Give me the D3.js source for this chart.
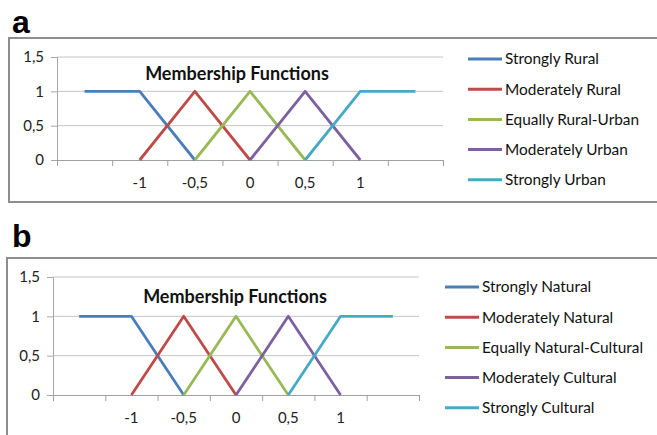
<!doctype html>
<html lang="en">
<head>
<meta charset="UTF-8" />
<title>Membership Functions</title>
<script src="https://d3js.org/d3.v7.min.js"></script>
<style>
  body { margin: 0; background: #fff; }
  text { font-family: Lato, "Open Sans", sans-serif; }
</style>
</head>
<body>
<div id="chart"></div>
<script>
// category slots along x (first and last slots carry no label)
var xLabels = ['', '-1', '-0,5', '0', '0,5', '1', ''];
var yTicks = [0, 0.5, 1, 1.5];
var yTickLabels = ['0', '0,5', '1', '1,5'];

// membership values per slot, null = no point
var strongly = [1, 1, 0, null, null, null, null];
var moderatelyLow = [null, 0, 1, 0, null, null, null];
var equally = [null, null, 0, 1, 0, null, null];
var moderatelyHigh = [null, null, null, 0, 1, 0, null];
var stronglyHigh = [null, null, null, null, 0, 1, 1];

var namesA = ['Strongly Rural', 'Moderately Rural', 'Equally Rural-Urban', 'Moderately Urban', 'Strongly Urban'];
var namesB = ['Strongly Natural', 'Moderately Natural', 'Equally Natural-Cultural', 'Moderately Cultural', 'Strongly Cultural'];

var colors = ['#4A7EBB', '#BE4B48', '#98B954', '#7D60A0', '#46AAC5'];
var seriesValues = [strongly, moderatelyLow, equally, moderatelyHigh, stronglyHigh];

var svg = d3.select('#chart')
    .append('svg')
    .attr('width', 657)
    .attr('height', 435);

function drawPanel(p) {
    var g = svg.append('g');

    g.append('text')
        .attr('x', p.labelX)
        .attr('y', p.labelY)
        .style('font-family', '"Liberation Sans", Arial, sans-serif')
        .attr('font-weight', 'bold')
        .attr('font-size', '32px')
        .text(p.letter);

    g.append('rect')
        .attr('x', p.box[0])
        .attr('y', p.box[1])
        .attr('width', p.box[2])
        .attr('height', p.box[3])
        .attr('fill', '#fff')
        .attr('stroke', '#8e8e8e')
        .attr('stroke-width', 2);

    var x = d3.scaleLinear().domain([0, xLabels.length]).range([p.left, p.right]);
    var y = d3.scaleLinear().domain([0, 1.5]).range([p.bottom, p.top]);

    // gridlines
    g.append('g')
        .selectAll('line')
        .data(yTicks.slice(1))
        .enter()
        .append('line')
        .attr('x1', p.left)
        .attr('x2', p.right)
        .attr('y1', (d) => y(d))
        .attr('y2', (d) => y(d))
        .attr('stroke', '#c4c4c4')
        .attr('stroke-width', 1);

    // y axis
    var yAxis = g.append('g')
        .attr('transform', 'translate(' + p.left + ',0)')
        .call(d3.axisLeft(y)
            .tickValues(yTicks)
            .tickFormat((d, i) => yTickLabels[i])
            .tickSize(6)
            .tickPadding(7));
    yAxis.select('.domain').attr('stroke', '#a8a8a8');
    yAxis.selectAll('.tick line').attr('stroke', '#a8a8a8');
    yAxis.selectAll('.tick text')
        .attr('font-size', '15px')
        .attr('fill', '#222')
        .style('font-family', 'Lato, sans-serif');

    // x axis: tick marks on slot boundaries, labels at slot centres
    var xAxis = g.append('g')
        .attr('transform', 'translate(0,' + p.bottom + ')')
        .call(d3.axisBottom(x)
            .tickValues(d3.range(xLabels.length + 1))
            .tickFormat('')
            .tickSize(6)
            .tickSizeOuter(0));
    xAxis.select('.domain').attr('stroke', '#a0a0a0');
    xAxis.selectAll('.tick line').attr('stroke', '#a0a0a0');

    g.append('g')
        .selectAll('text')
        .data(xLabels)
        .enter()
        .append('text')
        .attr('x', (d, i) => x(i + 0.5))
        .attr('y', p.bottom + p.xLabelDy)
        .attr('text-anchor', 'middle')
        .attr('font-size', '15px')
        .attr('fill', '#222')
        .text((d) => d);

    // title
    g.append('text')
        .attr('x', p.titleX)
        .attr('y', p.titleY)
        .attr('text-anchor', 'middle')
        .attr('font-size', '18px')
        .attr('font-weight', 'bold')
        .attr('fill', '#111')
        .text('Membership Functions');

    // lines
    var line = d3.line()
        .defined((d) => d !== null)
        .x((d, i) => x(i + 0.5))
        .y((d) => y(d));

    g.append('g')
        .selectAll('path')
        .data(seriesValues)
        .enter()
        .append('path')
        .attr('fill', 'none')
        .attr('stroke', (d, i) => colors[i])
        .attr('stroke-width', 2.8)
        .attr('stroke-linejoin', 'round')
        .attr('d', (d) => line(d));

    // legend
    var legend = g.append('g')
        .selectAll('g')
        .data(p.names)
        .enter()
        .append('g')
        .attr('transform', (d, i) => 'translate(' + p.legendX + ',' + (p.legendY + i * 30.2) + ')');

    legend.append('line')
        .attr('x1', 0)
        .attr('x2', 34)
        .attr('stroke', (d, i) => colors[i])
        .attr('stroke-width', 3);

    legend.append('text')
        .attr('x', 37)
        .attr('dy', '0.35em')
        .attr('font-size', '15.4px')
        .attr('fill', '#111')
        .text((d) => d);
}

drawPanel({
    letter: 'a', labelX: 12, labelY: 33,
    box: [9, 38, 660, 164],
    left: 57, right: 443, top: 57, bottom: 160,
    xLabelDy: 28,
    titleX: 237, titleY: 80,
    legendX: 468, legendY: 59,
    names: namesA
});

drawPanel({
    letter: 'b', labelX: 12, labelY: 247,
    box: [7, 258, 660, 190],
    left: 53, right: 419, top: 277, bottom: 395,
    xLabelDy: 28,
    titleX: 235, titleY: 303,
    legendX: 445, legendY: 287,
    names: namesB
});
</script>
</body>
</html>
